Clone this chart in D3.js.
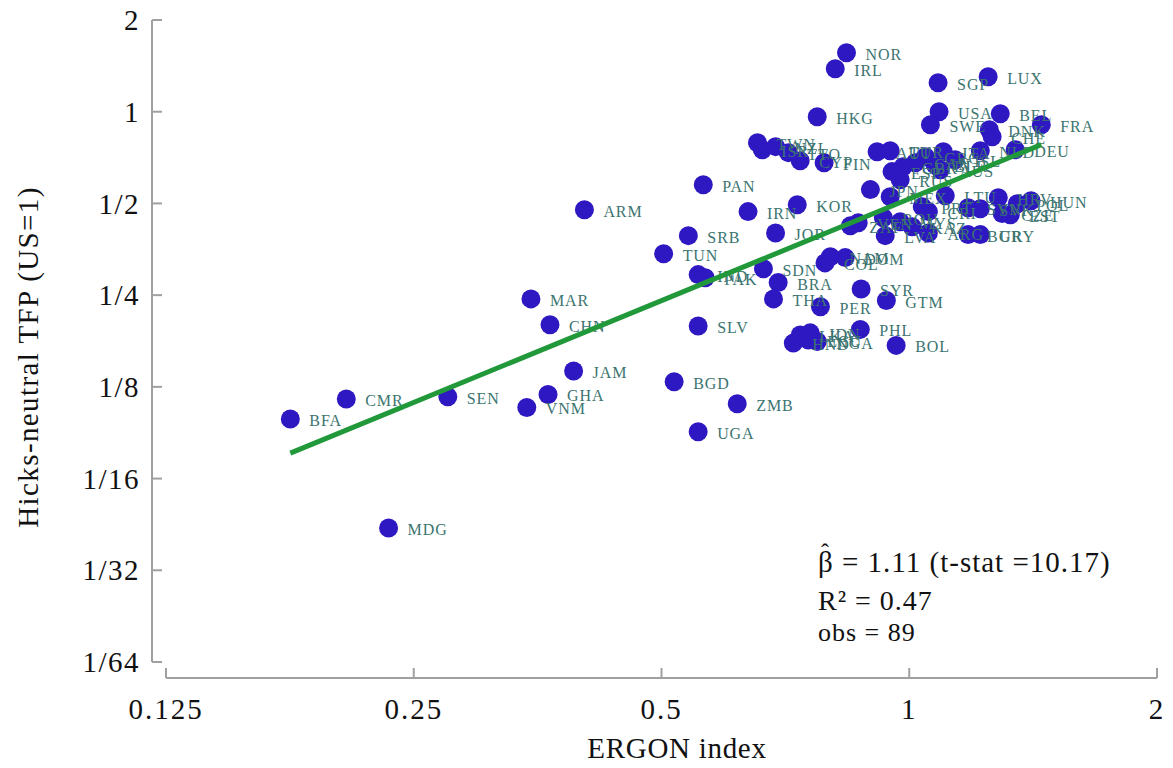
<!DOCTYPE html>
<html>
<head>
<meta charset="utf-8">
<script src="https://cdn.jsdelivr.net/npm/d3@7"></script>
<style>
  body { margin: 0; background: #fff; }
  svg text { font-family: "Liberation Serif", "DejaVu Serif", serif; }
</style>
</head>
<body>
<script>
// data
var countries = ["NOR","IRL","SGP","LUX","HKG","USA","BEL","FRA","SWE","DNK","CHE","NLD","DEU","ITA","ISL",
  "AUT","TUR","CAN","GBR","ESP","AUS","GRC","BLR","TWN","ISR","NZL","TTO","CYP","FIN","PAN","JPN","MEX",
  "LTU","PRT","CRI","KOR","IRN","JOR","SRB","TUN","ARM","VEN","ZAF","MYS","KAZ","ROU","LVA","ARG","BGR",
  "URY","SVN","SVK","HRV","CZE","EST","POL","HUN","RUS","NAM","DOM","COL","SDN","BRA","THA","IND","PAK",
  "SYR","GTM","PER","PHL","BOL","HND","LKA","IDN","NGA","ECU","SLV","MAR","CHN","JAM","BGD","ZMB","UGA",
  "GHA","VNM","SEN","CMR","BFA","MDG"];
var ergon = [0.839,0.813,1.084,1.247,0.773,1.087,1.290,1.447,1.061,1.251,1.261,1.220,1.345,1.100,1.137,
  0.914,0.948,1.017,0.983,0.953,1.091,1.046,1.075,0.654,0.663,0.688,0.713,0.737,0.788,0.562,0.897,0.948,
  1.106,1.037,1.055,0.731,0.637,0.688,0.539,0.503,0.403,0.867,0.848,0.975,1.008,0.930,0.935,1.055,1.179,
  1.220,1.179,1.220,1.283,1.297,1.327,1.353,1.406,0.975,0.802,0.836,0.790,0.665,0.693,0.684,0.554,0.565,
  0.874,0.938,0.780,0.872,0.964,0.723,0.737,0.758,0.773,0.754,0.554,0.347,0.366,0.391,0.518,0.618,0.554,
  0.364,0.343,0.275,0.207,0.177,0.233];
var tfp = [1.562,1.384,1.245,1.303,0.963,1.000,0.985,0.906,0.906,0.873,0.828,0.745,0.750,0.739,0.696,
  0.739,0.745,0.680,0.660,0.636,0.645,0.712,0.670,0.791,0.750,0.768,0.734,0.690,0.680,0.576,0.555,0.526,
  0.530,0.488,0.470,0.495,0.470,0.400,0.392,0.342,0.477,0.432,0.422,0.435,0.419,0.449,0.392,0.400,0.395,
  0.395,0.484,0.480,0.522,0.463,0.459,0.499,0.510,0.598,0.334,0.332,0.319,0.305,0.275,0.243,0.292,0.285,
  0.262,0.240,0.229,0.193,0.171,0.174,0.185,0.188,0.176,0.178,0.198,0.243,0.200,0.141,0.130,0.110,0.089,
  0.118,0.107,0.116,0.114,0.098,0.043];

var xTicks = [0.125, 0.25, 0.5, 1, 2];
var xTickLabels = ["0.125", "0.25", "0.5", "1", "2"];
var yTicks = [2, 1, 1/2, 1/4, 1/8, 1/16, 1/32, 1/64];
var yTickLabels = ["2", "1", "1/2", "1/4", "1/8", "1/16", "1/32", "1/64"];

// fitted line in log2 space: log2(tfp) = a + b*log2(ergon)
var fitSlope = 1.11, fitIntercept = -0.95;
var statLines = ["\u03B2 = 1.11 (t-stat =10.17)", "R\u00B2 = 0.47", "obs = 89"];

var width = 1173, height = 768;
var svg = d3.select("body").append("svg").attr("width", width).attr("height", height);

var x = d3.scaleLog().base(2).domain([0.125, 2]).range([166, 1157]);
var y = d3.scaleLog().base(2).domain([1/64, 2]).range([662, 20]);
var axisColor = "#a0a0a0";

// y axis (offset to the left, ticks pointing in)
svg.append("line").attr("x1", 152).attr("x2", 152).attr("y1", y(2)).attr("y2", y(1/64))
  .attr("stroke", axisColor).attr("stroke-width", 2);
svg.selectAll(".ytick").data(yTicks).enter().append("line")
  .attr("x1", 152).attr("x2", 162).attr("y1", d => y(d)).attr("y2", d => y(d))
  .attr("stroke", axisColor).attr("stroke-width", 2);
svg.selectAll(".ylab").data(yTicks).enter().append("text")
  .attr("x", 140).attr("y", d => y(d)).attr("dy", "0.35em")
  .attr("text-anchor", "end").attr("font-size", 29).attr("letter-spacing", 1.5).attr("fill", "#111")
  .text((d, i) => yTickLabels[i]);

// x axis (offset below, ticks pointing in)
svg.append("line").attr("x1", x(0.125)).attr("x2", x(2)).attr("y1", 678).attr("y2", 678)
  .attr("stroke", axisColor).attr("stroke-width", 2);
svg.selectAll(".xtick").data(xTicks).enter().append("line")
  .attr("x1", d => x(d)).attr("x2", d => x(d)).attr("y1", 678).attr("y2", 668)
  .attr("stroke", axisColor).attr("stroke-width", 2);
svg.selectAll(".xlab").data(xTicks).enter().append("text")
  .attr("x", d => x(d)).attr("y", 719)
  .attr("text-anchor", "middle").attr("font-size", 29).attr("letter-spacing", 2).attr("fill", "#111")
  .text((d, i) => xTickLabels[i]);

svg.append("text").attr("x", 677).attr("y", 758).attr("text-anchor", "middle")
  .attr("font-size", 29).attr("letter-spacing", 0.7).attr("fill", "#111").text("ERGON index");
svg.append("text").attr("transform", "translate(38,357) rotate(-90)")
  .attr("text-anchor", "middle").attr("font-size", 29).attr("letter-spacing", 1.4).attr("fill", "#111")
  .text("Hicks-neutral TFP (US=1)");

// points
var pts = countries.map((c, i) => ({ c: c, x: ergon[i], y: tfp[i] }));
svg.selectAll(".dot").data(pts).enter().append("circle")
  .attr("cx", d => x(d.x)).attr("cy", d => y(d.y)).attr("r", 9.5)
  .attr("fill", "#2e18c2");
svg.selectAll(".lab").data(pts).enter().append("text")
  .attr("x", d => x(d.x) + 19).attr("y", d => y(d.y) + 7)
  .attr("font-size", 16).attr("letter-spacing", 0.9).attr("fill", "#3b7470")
  .text(d => d.c);

// regression line across the data range
var xr = d3.extent(ergon);
var fit = xr.map(v => [v, Math.pow(2, fitIntercept + fitSlope * Math.log2(v))]);
svg.append("path").datum(fit)
  .attr("d", d3.line().x(d => x(d[0])).y(d => y(d[1])))
  .attr("stroke", "#21993a").attr("stroke-width", 5).attr("fill", "none");

// stats box
var sizes = [29, 28, 26], ys = [572, 610, 641];
statLines.forEach(function (s, i) {
  svg.append("text").attr("x", 818).attr("y", ys[i]).attr("font-size", sizes[i])
    .attr("letter-spacing", 1).attr("fill", "#111").text(s);
});
// hat over beta
svg.append("text").attr("x", 825).attr("y", 560).attr("text-anchor", "middle")
  .attr("font-size", 24).attr("fill", "#111").text("\u02C6");
</script>
</body>
</html>
